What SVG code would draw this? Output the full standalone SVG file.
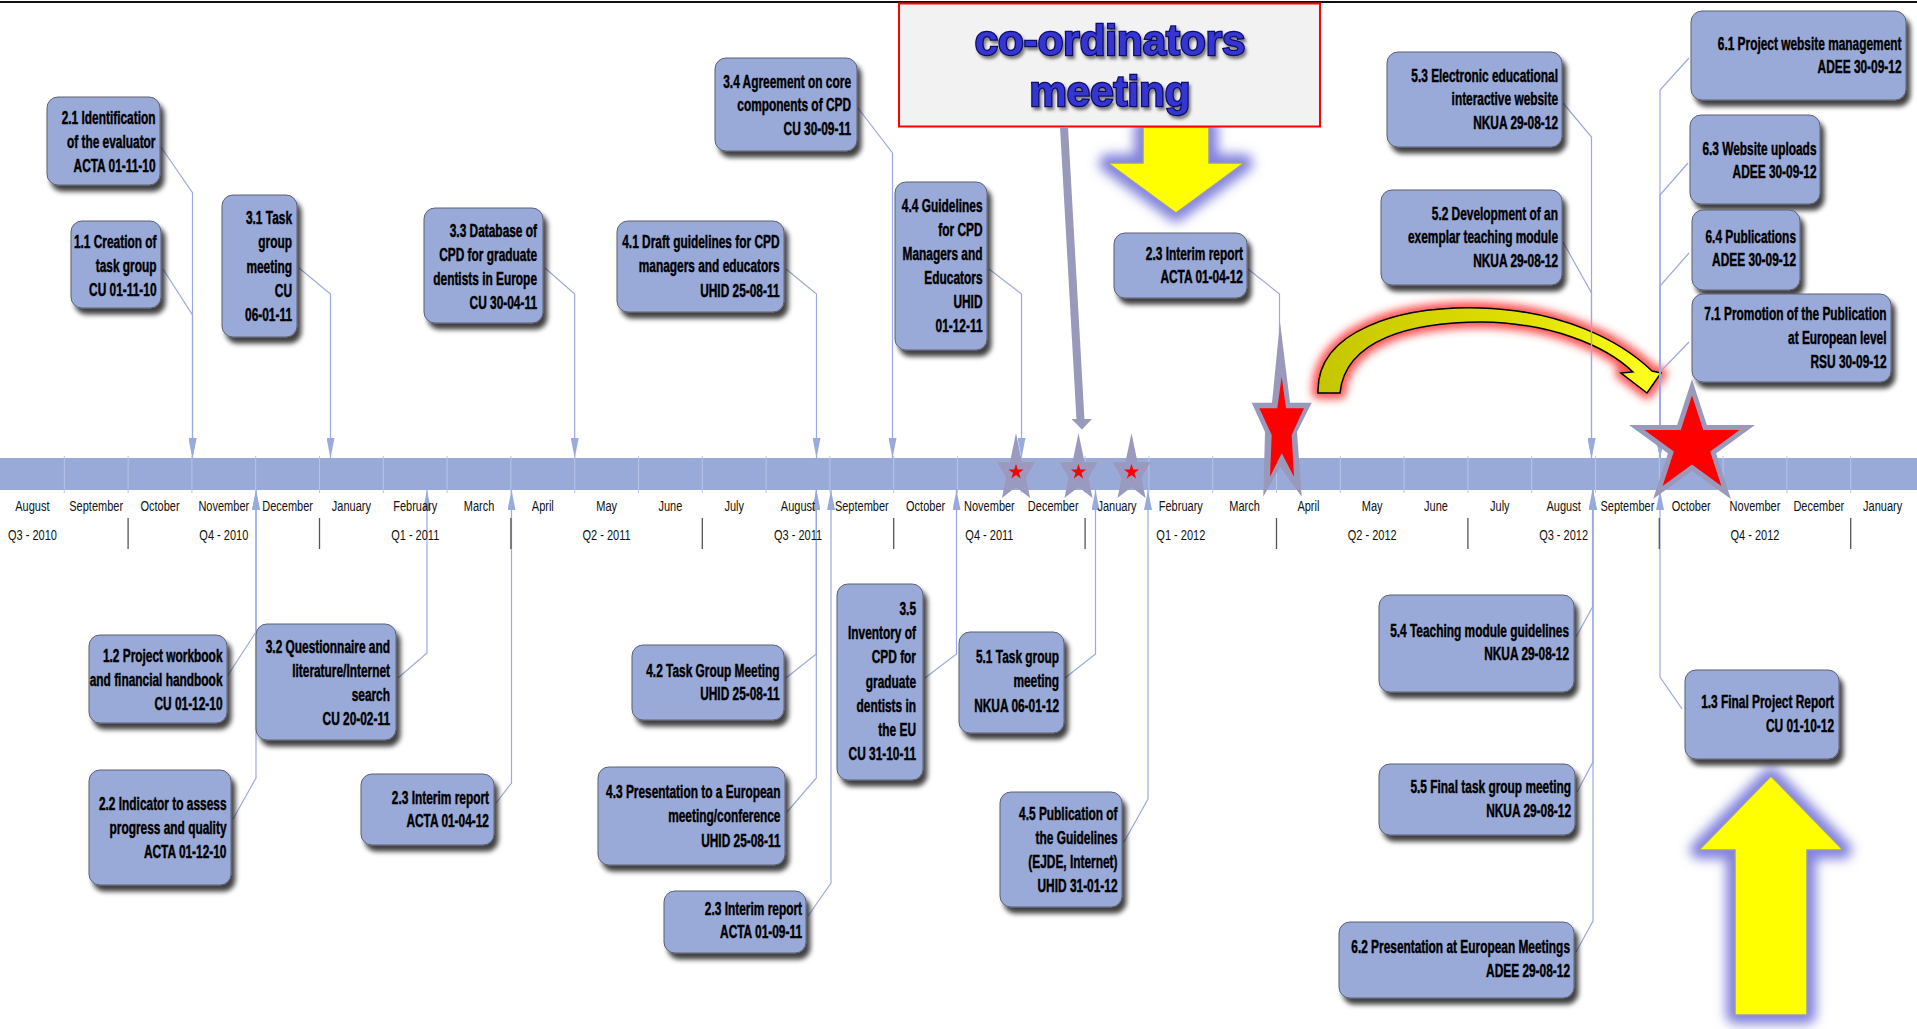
<svg xmlns="http://www.w3.org/2000/svg" width="1917" height="1029" viewBox="0 0 1917 1029">
<defs>
<style>
.node rect{fill:#99aad9;stroke:#5c6070;stroke-width:1;filter:url(#sh)}
.node text{font-family:"Liberation Sans",Arial,sans-serif;font-weight:bold;font-size:17.5px;text-anchor:end;fill:#000;stroke:#000;stroke-width:0.45}
.con polyline{fill:none;stroke:#9aaade;stroke-width:1.2;marker-end:url(#ah)}
.mon{font-family:"Liberation Sans",Arial,sans-serif;font-size:14.5px;text-anchor:middle;fill:#111}
.qsep{stroke:#555;stroke-width:1.3}
.glowb{fill:#8282dc;stroke:#8282dc;stroke-width:18;stroke-linejoin:round;filter:url(#blur6)}
.yel{fill:#ffff00;stroke:#9999bb;stroke-width:1.5}
.coord{font-family:"Liberation Sans",Arial,sans-serif;font-weight:bold;font-size:42px;text-anchor:middle;fill:#3434d2;stroke:#0e0e66;stroke-width:2.5;paint-order:stroke;filter:url(#tsh)}
</style>
<filter id="sh" x="-15%" y="-15%" width="140%" height="150%"><feDropShadow dx="4" dy="6" stdDeviation="2.5" flood-color="#000" flood-opacity="0.75"/></filter>
<filter id="tsh" x="-10%" y="-20%" width="120%" height="150%"><feDropShadow dx="2" dy="3" stdDeviation="1.5" flood-color="#333" flood-opacity="0.6"/></filter>
<filter id="blur6" x="-50%" y="-50%" width="200%" height="200%"><feGaussianBlur stdDeviation="6"/></filter>
<filter id="blur4" x="-30%" y="-30%" width="160%" height="160%"><feGaussianBlur stdDeviation="4"/></filter>
<linearGradient id="arcg" gradientUnits="userSpaceOnUse" x1="1318" y1="0" x2="1660" y2="0"><stop offset="0" stop-color="#c6c600"/><stop offset="0.6" stop-color="#e0e000"/><stop offset="1" stop-color="#ffff20"/></linearGradient>
<marker id="ah" viewBox="0 0 20 8" refX="20" refY="4" markerWidth="20" markerHeight="8" markerUnits="userSpaceOnUse" orient="auto"><path d="M0,0 L20,4 L0,8 z" fill="#99aadd"/></marker>
<polygon id="sstar" points="0,-38 6,-9 19,-9 10,7 14,27 0,16 -14,27 -10,7 -19,-9 -6,-9" fill="#9a9ac0"/>
<polygon id="rstar" points="0,-8 1.8,-2.5 7.6,-2.5 2.9,0.9 4.7,6.5 0,3 -4.7,6.5 -2.9,0.9 -7.6,-2.5 -1.8,-2.5" fill="#ff0000"/>
</defs>
<rect x="0" y="0" width="1917" height="1029" fill="#ffffff"/>
<rect x="0" y="1" width="1917" height="2" fill="#111"/>

<g id="glows">
<polygon class="glowb" points="1143,127 1209,127 1209,163 1244,163 1176,213 1108,163 1143,163"/>
<polygon class="glowb" points="1771,776 1843,850 1807,850 1807,1015 1735,1015 1735,850 1699,850"/>
<path d="M1318,393 C1316,330 1400,306 1480,308 C1560,310 1620,340 1652,371 L1661,373 L1647,393 L1621,373 L1633,372 C1605,345 1550,323 1482,322 C1410,322 1345,340 1340,393 Z" fill="#ff3030" stroke="#ff3030" stroke-width="12" stroke-linejoin="round" filter="url(#blur4)" opacity="0.85"/>
</g>
<path id="curved-arrow" d="M1318,393 C1316,330 1400,306 1480,308 C1560,310 1620,340 1652,371 L1661,373 L1647,393 L1621,373 L1633,372 C1605,345 1550,323 1482,322 C1410,322 1345,340 1340,393 Z" fill="url(#arcg)" stroke="#000" stroke-width="1.5" stroke-linejoin="miter"/>

<g id="connectors" class="con">
<polyline points="161,147 192.5,192.7 192.5,458"/>
<polyline points="163,269 192.5,315 192.5,458"/>
<polyline points="299,268 330.5,294 330.5,458"/>
<polyline points="545,268 574.7,294 574.7,458"/>
<polyline points="786,269 816.5,294 816.5,458"/>
<polyline points="858,108 892.5,153 892.5,458"/>
<polyline points="989,269 1021.5,294 1021.5,458"/>
<polyline points="1248,269 1279.5,294 1279.5,458"/>
<polyline points="1563,103 1591.5,137 1591.5,458"/>
<polyline points="1563,242 1591.5,293 1591.5,458"/>
<polyline points="1689,58 1660,90 1660,458"/>
<polyline points="1688,163 1660,195 1660,458"/>
<polyline points="1689,253 1660,286 1660,458"/>
<polyline points="1689,342 1660,372 1660,458"/>
<polyline points="228,675 256,632 256,490"/>
<polyline points="233,819 256,778 256,490"/>
<polyline points="398,678 427,653 427,490"/>
<polyline points="496,803 511.5,783 511.5,490"/>
<polyline points="786,678 816.3,654 816.3,490"/>
<polyline points="787,812 816.3,778 816.3,490"/>
<polyline points="808,916 831,883 831,490"/>
<polyline points="925,678 956.5,654 956.5,490"/>
<polyline points="1065,678 1095.5,654 1095.5,490"/>
<polyline points="1124,842 1148,799 1148,490"/>
<polyline points="1576,637 1592.5,607 1592.5,490"/>
<polyline points="1577,792 1593,762 1593,490"/>
<polyline points="1576,952 1593,921 1593,490"/>
<polyline points="1682,709 1660,677 1660,490"/>
</g>

<g id="timeline">
<rect x="0" y="458" width="1917" height="32" fill="#99aad9"/>
<path d="M64.3,456V493M128.1,456V493M191.9,456V493M255.7,456V493M319.5,456V493M383.3,456V493M447.1,456V493M510.9,456V493M574.7,456V493M638.5,456V493M702.3,456V493M766.1,456V493M829.9,456V493M893.7,456V493M957.5,456V493M1021.3,456V493M1085.1,456V493M1148.9,456V493M1212.7,456V493M1276.5,456V493M1340.3,456V493M1404.1,456V493M1467.9,456V493M1531.7,456V493M1595.5,456V493M1659.3,456V493M1723.1,456V493M1786.9,456V493M1850.7,456V493" stroke="#b8c3e8" stroke-width="1" fill="none"/>
<path class="qsep" d="M128.1,518V549M319.5,518V549M510.9,518V549M702.3,518V549M893.7,518V549M1085.1,518V549M1276.5,518V549M1467.9,518V549M1659.3,518V549M1850.7,518V549" fill="none"/>
<g class="mon">
<text transform="translate(32.4,511) scale(0.76,1)">August</text>
<text transform="translate(96.2,511) scale(0.76,1)">September</text>
<text transform="translate(160,511) scale(0.76,1)">October</text>
<text transform="translate(223.8,511) scale(0.76,1)">November</text>
<text transform="translate(287.6,511) scale(0.76,1)">December</text>
<text transform="translate(351.4,511) scale(0.76,1)">January</text>
<text transform="translate(415.2,511) scale(0.76,1)">February</text>
<text transform="translate(479,511) scale(0.76,1)">March</text>
<text transform="translate(542.8,511) scale(0.76,1)">April</text>
<text transform="translate(606.6,511) scale(0.76,1)">May</text>
<text transform="translate(670.4,511) scale(0.76,1)">June</text>
<text transform="translate(734.2,511) scale(0.76,1)">July</text>
<text transform="translate(798,511) scale(0.76,1)">August</text>
<text transform="translate(861.8,511) scale(0.76,1)">September</text>
<text transform="translate(925.6,511) scale(0.76,1)">October</text>
<text transform="translate(989.4,511) scale(0.76,1)">November</text>
<text transform="translate(1053.2,511) scale(0.76,1)">December</text>
<text transform="translate(1117,511) scale(0.76,1)">January</text>
<text transform="translate(1180.8,511) scale(0.76,1)">February</text>
<text transform="translate(1244.6,511) scale(0.76,1)">March</text>
<text transform="translate(1308.4,511) scale(0.76,1)">April</text>
<text transform="translate(1372.2,511) scale(0.76,1)">May</text>
<text transform="translate(1436,511) scale(0.76,1)">June</text>
<text transform="translate(1499.8,511) scale(0.76,1)">July</text>
<text transform="translate(1563.6,511) scale(0.76,1)">August</text>
<text transform="translate(1627.4,511) scale(0.76,1)">September</text>
<text transform="translate(1691.2,511) scale(0.76,1)">October</text>
<text transform="translate(1755,511) scale(0.76,1)">November</text>
<text transform="translate(1818.8,511) scale(0.76,1)">December</text>
<text transform="translate(1882.6,511) scale(0.76,1)">January</text>
<text transform="translate(32.4,540) scale(0.76,1)">Q3 - 2010</text>
<text transform="translate(223.8,540) scale(0.76,1)">Q4 - 2010</text>
<text transform="translate(415.2,540) scale(0.76,1)">Q1 - 2011</text>
<text transform="translate(606.6,540) scale(0.76,1)">Q2 - 2011</text>
<text transform="translate(798,540) scale(0.76,1)">Q3 - 2011</text>
<text transform="translate(989.4,540) scale(0.76,1)">Q4 - 2011</text>
<text transform="translate(1180.8,540) scale(0.76,1)">Q1 - 2012</text>
<text transform="translate(1372.2,540) scale(0.76,1)">Q2 - 2012</text>
<text transform="translate(1563.6,540) scale(0.76,1)">Q3 - 2012</text>
<text transform="translate(1755,540) scale(0.76,1)">Q4 - 2012</text>
</g>
</g>

<g id="yellow-arrows">
<polygon class="yel" points="1143,127 1209,127 1209,163 1244,163 1176,213 1108,163 1143,163"/>
<polygon class="yel" points="1771,776 1843,850 1807,850 1807,1015 1735,1015 1735,850 1699,850"/>
</g>

<g id="n21" class="node"><rect x="47" y="97" width="113" height="88" rx="11"/><text transform="translate(155.5,124) scale(0.68,1)"><tspan x="0">2.1 Identification</tspan><tspan x="0" dy="24">of the evaluator</tspan><tspan x="0" dy="24">ACTA 01-11-10</tspan></text></g>
<g id="n11" class="node"><rect x="71" y="221" width="90" height="87" rx="11"/><text transform="translate(156.5,248) scale(0.68,1)"><tspan x="0">1.1 Creation of</tspan><tspan x="0" dy="24">task group</tspan><tspan x="0" dy="24">CU 01-11-10</tspan></text></g>
<g id="n31" class="node"><rect x="222" y="195" width="75" height="142" rx="11"/><text transform="translate(292,224) scale(0.68,1)"><tspan x="0">3.1 Task</tspan><tspan x="0" dy="24.3">group</tspan><tspan x="0" dy="24.3">meeting</tspan><tspan x="0" dy="24.3">CU</tspan><tspan x="0" dy="24.3">06-01-11</tspan></text></g>
<g id="n33" class="node"><rect x="424" y="208" width="119" height="115" rx="11"/><text transform="translate(537,237) scale(0.68,1)"><tspan x="0">3.3 Database of</tspan><tspan x="0" dy="24">CPD for graduate</tspan><tspan x="0" dy="24">dentists in Europe</tspan><tspan x="0" dy="24">CU 30-04-11</tspan></text></g>
<g id="n34" class="node"><rect x="715" y="58" width="142" height="93" rx="11"/><text transform="translate(851,88) scale(0.68,1)"><tspan x="0">3.4 Agreement on core</tspan><tspan x="0" dy="23.5">components of CPD</tspan><tspan x="0" dy="23.5">CU 30-09-11</tspan></text></g>
<g id="n41" class="node"><rect x="617" y="221" width="167" height="91" rx="11"/><text transform="translate(779.5,248) scale(0.68,1)"><tspan x="0">4.1 Draft guidelines for CPD</tspan><tspan x="0" dy="24.5">managers and educators</tspan><tspan x="0" dy="24.5">UHID 25-08-11</tspan></text></g>
<g id="n44" class="node"><rect x="895" y="182" width="92" height="168" rx="11"/><text transform="translate(982.5,212) scale(0.68,1)"><tspan x="0">4.4 Guidelines</tspan><tspan x="0" dy="24">for CPD</tspan><tspan x="0" dy="24">Managers and</tspan><tspan x="0" dy="24">Educators</tspan><tspan x="0" dy="24">UHID</tspan><tspan x="0" dy="24">01-12-11</tspan></text></g>
<g id="n23a" class="node"><rect x="1114" y="233" width="133" height="65" rx="11"/><text transform="translate(1243,260) scale(0.68,1)"><tspan x="0">2.3 Interim report</tspan><tspan x="0" dy="23.5">ACTA 01-04-12</tspan></text></g>
<g id="n53" class="node"><rect x="1387" y="52" width="175" height="95" rx="11"/><text transform="translate(1558,82) scale(0.68,1)"><tspan x="0">5.3 Electronic educational</tspan><tspan x="0" dy="23.3">interactive website</tspan><tspan x="0" dy="23.3">NKUA 29-08-12</tspan></text></g>
<g id="n52" class="node"><rect x="1381" y="190" width="181" height="95" rx="11"/><text transform="translate(1558,220) scale(0.68,1)"><tspan x="0">5.2 Development of an</tspan><tspan x="0" dy="23.5">exemplar teaching module</tspan><tspan x="0" dy="23.5">NKUA 29-08-12</tspan></text></g>
<g id="n61" class="node"><rect x="1691" y="11" width="215" height="89" rx="11"/><text transform="translate(1901.5,50) scale(0.68,1)"><tspan x="0">6.1 Project website management</tspan><tspan x="0" dy="23.5">ADEE 30-09-12</tspan></text></g>
<g id="n63" class="node"><rect x="1690" y="115" width="130" height="89" rx="11"/><text transform="translate(1816.5,155) scale(0.68,1)"><tspan x="0">6.3 Website uploads</tspan><tspan x="0" dy="23.5">ADEE 30-09-12</tspan></text></g>
<g id="n64" class="node"><rect x="1692" y="210" width="108" height="80" rx="11"/><text transform="translate(1796,243) scale(0.68,1)"><tspan x="0">6.4 Publications</tspan><tspan x="0" dy="23.5">ADEE 30-09-12</tspan></text></g>
<g id="n71" class="node"><rect x="1692" y="294" width="199" height="88" rx="11"/><text transform="translate(1886.5,320) scale(0.68,1)"><tspan x="0">7.1 Promotion of the Publication</tspan><tspan x="0" dy="24">at European level</tspan><tspan x="0" dy="24">RSU 30-09-12</tspan></text></g>
<g id="n12" class="node"><rect x="89" y="635" width="138" height="88" rx="11"/><text transform="translate(222.5,662) scale(0.68,1)"><tspan x="0">1.2 Project workbook</tspan><tspan x="0" dy="24">and financial handbook</tspan><tspan x="0" dy="24">CU 01-12-10</tspan></text></g>
<g id="n32" class="node"><rect x="256" y="624" width="140" height="116" rx="11"/><text transform="translate(390,653) scale(0.68,1)"><tspan x="0">3.2 Questionnaire and</tspan><tspan x="0" dy="24">literature/Internet</tspan><tspan x="0" dy="24">search</tspan><tspan x="0" dy="24">CU 20-02-11</tspan></text></g>
<g id="n22" class="node"><rect x="89" y="770" width="142" height="115" rx="11"/><text transform="translate(226.5,810) scale(0.68,1)"><tspan x="0">2.2 Indicator to assess</tspan><tspan x="0" dy="24">progress and quality</tspan><tspan x="0" dy="24">ACTA 01-12-10</tspan></text></g>
<g id="n23b" class="node"><rect x="361" y="774" width="133" height="71" rx="11"/><text transform="translate(489,804) scale(0.68,1)"><tspan x="0">2.3 Interim report</tspan><tspan x="0" dy="23.5">ACTA 01-04-12</tspan></text></g>
<g id="n42" class="node"><rect x="632" y="645" width="152" height="75" rx="11"/><text transform="translate(779.5,677) scale(0.68,1)"><tspan x="0">4.2 Task Group Meeting</tspan><tspan x="0" dy="23.5">UHID 25-08-11</tspan></text></g>
<g id="n43" class="node"><rect x="598" y="767" width="187" height="98" rx="11"/><text transform="translate(780.5,798) scale(0.68,1)"><tspan x="0">4.3 Presentation to a European</tspan><tspan x="0" dy="24.5">meeting/conference</tspan><tspan x="0" dy="24.5">UHID 25-08-11</tspan></text></g>
<g id="n23c" class="node"><rect x="664" y="891" width="142" height="62" rx="11"/><text transform="translate(802,915) scale(0.68,1)"><tspan x="0">2.3 Interim report</tspan><tspan x="0" dy="23.5">ACTA 01-09-11</tspan></text></g>
<g id="n35" class="node"><rect x="837" y="584" width="86" height="196" rx="11"/><text transform="translate(916,615) scale(0.68,1)"><tspan x="0">3.5</tspan><tspan x="0" dy="24.2">Inventory of</tspan><tspan x="0" dy="24.2">CPD for</tspan><tspan x="0" dy="24.2">graduate</tspan><tspan x="0" dy="24.2">dentists in</tspan><tspan x="0" dy="24.2">the EU</tspan><tspan x="0" dy="24.2">CU 31-10-11</tspan></text></g>
<g id="n51" class="node"><rect x="959" y="632" width="105" height="101" rx="11"/><text transform="translate(1059,663) scale(0.68,1)"><tspan x="0">5.1 Task group</tspan><tspan x="0" dy="24.5">meeting</tspan><tspan x="0" dy="24.5">NKUA 06-01-12</tspan></text></g>
<g id="n45" class="node"><rect x="1000" y="792" width="122" height="115" rx="11"/><text transform="translate(1117.5,820) scale(0.68,1)"><tspan x="0">4.5 Publication of</tspan><tspan x="0" dy="24">the Guidelines</tspan><tspan x="0" dy="24">(EJDE, Internet)</tspan><tspan x="0" dy="24">UHID 31-01-12</tspan></text></g>
<g id="n54" class="node"><rect x="1379" y="595" width="195" height="97" rx="11"/><text transform="translate(1569,637) scale(0.68,1)"><tspan x="0">5.4 Teaching module guidelines</tspan><tspan x="0" dy="23.5">NKUA 29-08-12</tspan></text></g>
<g id="n55" class="node"><rect x="1379" y="764" width="196" height="71" rx="11"/><text transform="translate(1571,793) scale(0.68,1)"><tspan x="0">5.5 Final task group meeting</tspan><tspan x="0" dy="24">NKUA 29-08-12</tspan></text></g>
<g id="n62" class="node"><rect x="1339" y="922" width="235" height="76" rx="11"/><text transform="translate(1570,953) scale(0.68,1)"><tspan x="0">6.2 Presentation at European Meetings</tspan><tspan x="0" dy="24">ADEE 29-08-12</tspan></text></g>
<g id="n13" class="node"><rect x="1685" y="670" width="154" height="89" rx="11"/><text transform="translate(1834,708) scale(0.68,1)"><tspan x="0">1.3 Final Project Report</tspan><tspan x="0" dy="24">CU 01-10-12</tspan></text></g>

<g id="coordinators">
<rect x="899" y="3.5" width="421" height="123" fill="#f2f2f2" stroke="#ff0000" stroke-width="2"/>
<text class="coord" x="1110" y="55">co-ordinators</text>
<text class="coord" x="1110" y="106">meeting</text>
</g>
<g id="coord-pointer">
<line x1="1064" y1="127" x2="1080.5" y2="420" stroke="#9999bb" stroke-width="8"/>
<polygon points="1071.5,419 1092,419 1082,429.5" fill="#9999bb"/>
</g>

<g id="stars">
<use href="#sstar" x="1016" y="471"/><use href="#rstar" x="1016" y="472"/>
<use href="#sstar" x="1078.5" y="471"/><use href="#rstar" x="1078.5" y="472"/>
<use href="#sstar" x="1131.5" y="471"/><use href="#rstar" x="1131.5" y="472"/>
<polygon points="1280,322 1290,402.7 1311.7,402.7 1297,432 1301.7,496.7 1280,466.7 1263.3,496.7 1265,432 1251.7,402.7 1272,402.7" fill="#9999bb"/>
<polygon points="1281.7,376.7 1286,408.3 1304,408.3 1291.7,435 1294,476.7 1281.7,453.3 1270,476.7 1271.7,435 1259.3,408.3 1277.3,408.3" fill="#ff0000"/>
<polygon transform="translate(1692,445.5)" points="0,-50 11.23,-15.45 47.55,-15.45 18.17,5.9 29.39,40.45 0,19.1 -29.39,40.45 -18.17,5.9 -47.55,-15.45 -11.23,-15.45" fill="#ff0000" stroke="#9999bb" stroke-width="10" stroke-linejoin="miter" stroke-miterlimit="10" paint-order="stroke"/>
</g>
</svg>
